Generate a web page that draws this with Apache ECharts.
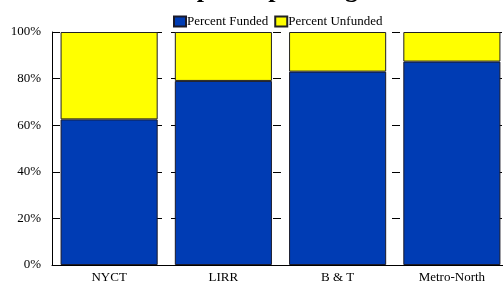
<!DOCTYPE html>
<html>
<head>
<meta charset="utf-8">
<script src="https://cdn.jsdelivr.net/npm/echarts@6/dist/echarts.min.js"></script>
<style>html,body{margin:0;padding:0;background:#fff;overflow:hidden}#c{width:509px;height:285px}</style>
</head>
<body>
<div id="c"></div>
<script>
var categories = ['NYCT', 'LIRR', 'B & T', 'Metro-North'];
var funded = [62.5, 79, 83, 87.3];
var unfunded = [37.5, 21, 17, 12.7];
var yTicks = [0, 20, 40, 60, 80, 100];
var seriesNames = ['Percent Funded', 'Percent Unfunded'];
var titleText = 'Capital Spending';

var serif = '"Liberation Serif", "DejaVu Serif", serif';
var chart = echarts.init(document.getElementById('c'), null, {renderer: 'canvas'});
chart.setOption({
  animation: false,
  backgroundColor: '#fff',
  title: {
    text: titleText, left: 160, top: -28,
    textStyle: {fontFamily: serif, fontWeight: 'bold', fontSize: 26, color: '#000'}
  },
  legend: {
    data: seriesNames, top: 10, left: 168, itemWidth: 12, itemHeight: 10, itemGap: 6,
    textStyle: {fontFamily: serif, fontSize: 13, color: '#000', padding: [0,0,0,-4]},
    icon: 'rect'
  },
  grid: {left: 52, right: 0, top: 32, height: 233},
  xAxis: {
    type: 'category', data: categories,
    axisLine: {lineStyle: {color: '#000', width: 1}},
    axisTick: {show: false},
    axisLabel: {fontFamily: serif, fontSize: 13, color: '#000', margin: 6}
  },
  yAxis: {
    type: 'value', min: yTicks[0], max: yTicks[yTicks.length-1], interval: 20,
    axisLine: {show: true, lineStyle: {color: '#000', width: 1}},
    axisTick: {show: true, inside: true, length: 8, lineStyle: {color: '#000'}},
    axisLabel: {fontFamily: serif, fontSize: 13, color: '#000', formatter: '{value}%', margin: 11},
    splitLine: {show: true, lineStyle: {color: '#000', type: [8, 9], width: 1}}
  },
  series: [
    {name: seriesNames[0], type: 'bar', stack: 's', data: funded, barCategoryGap: '15%',
     itemStyle: {color: '#003CB4', borderColor: '#1a1a2a', borderWidth: 1}},
    {name: seriesNames[1], type: 'bar', stack: 's', data: unfunded,
     itemStyle: {color: '#FFFF00', borderColor: '#222', borderWidth: 1}}
  ]
});
</script>
</body>
</html>
